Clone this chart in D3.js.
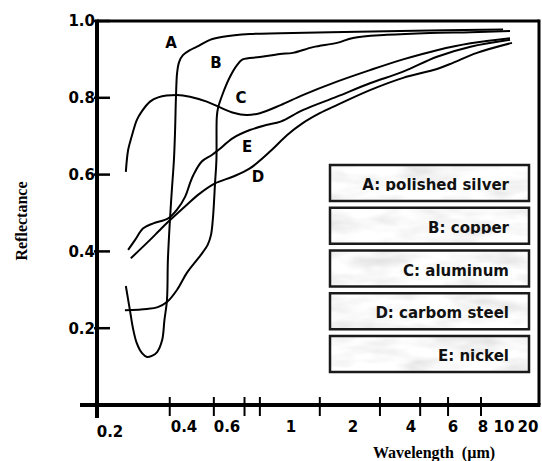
<!DOCTYPE html>
<html>
<head>
<meta charset="utf-8">
<script src="https://cdn.jsdelivr.net/npm/d3@7/dist/d3.min.js"></script>
<style>
  body { margin: 0; background: #fff; }
  svg { display: block; }
</style>
</head>
<body>
<div id="chart"></div>
<script>
// wavelength (um) vs reflectance
var curveA = [[0.232,0.31],[0.241,0.247],[0.248,0.20],[0.257,0.161],[0.27,0.135],[0.283,0.125],[0.296,0.128],
  [0.311,0.138],[0.326,0.169],[0.333,0.221],[0.341,0.273],[0.344,0.378],[0.351,0.487],[0.357,0.56],[0.364,0.638],
  [0.368,0.716],[0.371,0.802],[0.375,0.865],[0.382,0.893],[0.396,0.911],[0.423,0.924],[0.452,0.933],[0.511,0.951],
  [0.578,0.959],[0.72,0.966],[0.92,0.968],[1.55,0.971],[3.51,0.974],[9.9,0.978]]
var curveB = [[0.23,0.247],[0.283,0.25],[0.313,0.255],[0.341,0.268],[0.375,0.30],[0.411,0.344],[0.452,0.378],
  [0.478,0.398],[0.50,0.417],[0.516,0.443],[0.526,0.49],[0.536,0.578],[0.543,0.638],[0.545,0.75],[0.551,0.773],
  [0.578,0.8125],[0.614,0.854],[0.65,0.885],[0.68,0.90],[0.78,0.906],[0.916,0.914],[1.02,0.917],[1.28,0.932],
  [1.67,0.943],[2.0,0.956],[3.0,0.964],[4.8,0.969],[7.1,0.971],[11.9,0.974]]
var curveC = [[0.232,0.607],[0.237,0.664],[0.245,0.699],[0.257,0.742],[0.269,0.764],[0.291,0.79],[0.314,0.801],
  [0.374,0.807],[0.423,0.803],[0.496,0.79],[0.562,0.775],[0.631,0.761],[0.702,0.755],[0.78,0.76],[0.92,0.781],
  [1.14,0.807],[1.67,0.842],[2.45,0.872],[3.64,0.90],[5.14,0.924],[7.1,0.942],[11.9,0.955]]
var curveD = [[0.243,0.382],[0.291,0.43],[0.316,0.453],[0.345,0.477],[0.41,0.521],[0.465,0.551],[0.536,0.577],
  [0.631,0.595],[0.72,0.616],[0.857,0.664],[0.97,0.703],[1.14,0.734],[1.38,0.76],[1.67,0.781],[2.45,0.82],
  [3.64,0.852],[5.14,0.875],[6.0,0.891],[7.55,0.917],[12.6,0.943]]
var curveE = [[0.237,0.404],[0.253,0.43],[0.273,0.46],[0.30,0.473],[0.345,0.486],[0.374,0.508],[0.404,0.542],
  [0.423,0.577],[0.437,0.599],[0.473,0.634],[0.52,0.651],[0.553,0.664],[0.629,0.695],[0.72,0.716],[0.82,0.729],
  [0.92,0.738],[1.14,0.768],[1.67,0.803],[2.45,0.838],[3.64,0.868],[5.14,0.907],[7.1,0.933],[11.9,0.951]]

var curves = [curveA, curveB, curveC, curveD, curveE]
var curveNames = ['A', 'B', 'C', 'D', 'E']
var curveNameAt = [[0.354,0.945],[0.541,0.891],[0.671,0.80],[0.768,0.594],[0.704,0.674]]
var legendNames = ['A: polished silver', 'B: copper', 'C: aluminum', 'D: carbom steel', 'E: nickel']

var xLabelVals = [0.2, 0.4, 0.6, 1, 2, 4, 6, 8, 10, 20]
var xMinorTicks = [0.35, 0.53, 0.69, 0.78, 1.38, 2.76, 4.37, 5.72, 7.85]
var yTicks = [0.2, 0.4, 0.6, 0.8, 1.0]

var width = 542
var height = 461
var frame = {left: 97, right: 539, top: 21, bottom: 405}

// the drawn axis is not a clean log axis, so go piecewise in log space
var xLog = d3.scaleLinear()
    .domain(xLabelVals.map(Math.log10))
    .range([110, 184, 227, 291, 353, 411, 453, 483, 504, 528])
var x = function (v) { return xLog(Math.log10(v)) }

var y = d3.scaleLinear().domain([0, 1]).range([frame.bottom, frame.top])

var sans = '"DejaVu Sans", Verdana, sans-serif'
var serif = '"Liberation Serif", "Times New Roman", serif'

var svg = d3.select('#chart').append('svg')
    .attr('width', width)
    .attr('height', height)

var defs = svg.append('defs')

// marble-ish grey for the legend boxes
var marble = defs.append('filter')
    .attr('id', 'marble')
    .attr('x', 0).attr('y', 0).attr('width', 1).attr('height', 1)
marble.append('feTurbulence')
    .attr('type', 'fractalNoise')
    .attr('baseFrequency', '0.02 0.06')
    .attr('numOctaves', 3)
    .attr('seed', 7)
marble.append('feColorMatrix')
    .attr('type', 'matrix')
    .attr('values', '0.5 0 0 0 0.7  0.5 0 0 0 0.7  0.5 0 0 0 0.7  0 0 0 0 1')

// frame
svg.append('line')
    .attr('x1', frame.left).attr('x2', frame.right)
    .attr('y1', frame.top).attr('y2', frame.top)
    .attr('stroke', '#000').attr('stroke-width', 3)
svg.append('line')
    .attr('x1', frame.right).attr('x2', frame.right)
    .attr('y1', frame.top - 1.5).attr('y2', frame.bottom)
    .attr('stroke', '#000').attr('stroke-width', 3)

// y axis: labels sit on the line, ticks stick in
svg.selectAll('.ytick')
    .data(yTicks)
    .enter().append('line')
    .attr('class', 'ytick')
    .attr('x1', frame.left - 3).attr('x2', frame.left + 13)
    .attr('y1', y).attr('y2', y)
    .attr('stroke', '#000').attr('stroke-width', 2.5)

svg.selectAll('.ylabel')
    .data(yTicks)
    .enter().append('text')
    .attr('class', 'ylabel')
    .attr('x', frame.left - 2)
    .attr('y', y)
    .attr('dy', '0.36em')
    .attr('text-anchor', 'end')
    .style('font-family', sans)
    .style('font-size', '15px')
    .style('font-weight', 'bold')
    .text(d3.format('.1f'))

svg.append('line')
    .attr('x1', frame.left).attr('x2', frame.left)
    .attr('y1', frame.top - 1.5).attr('y2', frame.bottom + 13)
    .attr('stroke', '#000').attr('stroke-width', 4)

// x axis
svg.append('line')
    .attr('x1', 80).attr('x2', frame.right + 1.5)
    .attr('y1', frame.bottom).attr('y2', frame.bottom)
    .attr('stroke', '#000').attr('stroke-width', 4)

svg.selectAll('.xtick')
    .data(xMinorTicks)
    .enter().append('line')
    .attr('class', 'xtick')
    .attr('x1', x).attr('x2', x)
    .attr('y1', frame.bottom - 8).attr('y2', frame.bottom + 11)
    .attr('stroke', '#000').attr('stroke-width', 2)

svg.selectAll('.xlabel')
    .data(xLabelVals)
    .enter().append('text')
    .attr('class', 'xlabel')
    .attr('x', x)
    .attr('y', function (d) { return d === 0.2 ? 437 : 432 })
    .attr('text-anchor', 'middle')
    .style('font-family', sans)
    .style('font-size', '15px')
    .style('font-weight', 'bold')
    .text(function (d) { return String(d) })

// axis titles
svg.append('text')
    .attr('x', 434).attr('y', 458)
    .attr('text-anchor', 'middle')
    .style('font-family', serif)
    .style('font-size', '16px')
    .style('font-weight', 'bold')
    .style('white-space', 'pre')
    .text('Wavelength  (\u00b5m)')

svg.append('text')
    .attr('transform', 'translate(27,221) rotate(-90)')
    .attr('text-anchor', 'middle')
    .style('font-family', serif)
    .style('font-size', '16px')
    .style('font-weight', 'bold')
    .text('Reflectance')

// curves
var line = d3.line()
    .x(function (d) { return x(d[0]) })
    .y(function (d) { return y(d[1]) })
    .curve(d3.curveCatmullRom.alpha(0.5))

svg.selectAll('.curve')
    .data(curves)
    .enter().append('path')
    .attr('class', 'curve')
    .attr('d', line)
    .attr('fill', 'none')
    .attr('stroke', '#000')
    .attr('stroke-width', 2)

svg.selectAll('.cname')
    .data(curveNames)
    .enter().append('text')
    .attr('class', 'cname')
    .attr('x', function (d, i) { return x(curveNameAt[i][0]) })
    .attr('y', function (d, i) { return y(curveNameAt[i][1]) })
    .attr('dy', '0.36em')
    .attr('text-anchor', 'middle')
    .style('font-family', sans)
    .style('font-size', '15px')
    .style('font-weight', 'bold')
    .text(function (d) { return d })

// legend boxes
var boxX = 330
var boxW = 199
var boxH = 36
var boxStep = 42.75
var boxTop = 165

legendNames.forEach(function (name, i) {
  var top = boxTop + i * boxStep
  defs.append('clipPath')
      .attr('id', 'clip' + i)
    .append('rect')
      .attr('x', boxX).attr('y', top)
      .attr('width', boxW).attr('height', 26)

  var g = svg.append('g').attr('class', 'legend')
  g.append('rect')
      .attr('x', boxX).attr('y', top)
      .attr('width', boxW).attr('height', boxH)
      .attr('fill', '#ececec')
      .attr('filter', 'url(#marble)')
  g.append('rect')
      .attr('x', boxX).attr('y', top)
      .attr('width', boxW).attr('height', boxH)
      .attr('fill', 'none')
      .attr('stroke', '#1a1a1a')
      .attr('stroke-width', 2.5)
  g.append('text')
      .attr('x', 509).attr('y', top + 25)
      .attr('text-anchor', 'end')
      .attr('clip-path', 'url(#clip' + i + ')')
      .attr('fill', '#111')
      .style('font-family', sans)
      .style('font-size', '15px')
      .style('font-weight', 'bold')
      .text(name)
})
</script>
</body>
</html>
